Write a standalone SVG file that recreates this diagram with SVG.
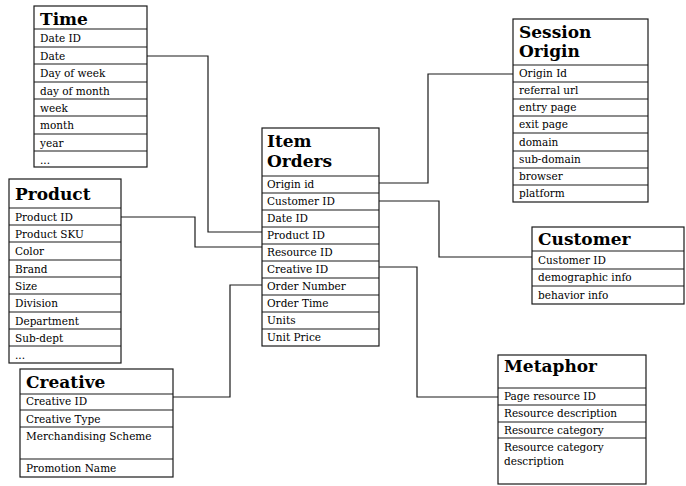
<svg xmlns="http://www.w3.org/2000/svg" width="686" height="486" viewBox="0 0 686 486">
<style>
rect{fill:#fff;stroke:#1a1a1a;stroke-width:1.2}
line.r{stroke:#1a1a1a;stroke-width:1.2}
.t{font-family:"DejaVu Serif","Liberation Serif",serif;font-weight:bold;font-size:17px;fill:#000}
.f{font-family:"DejaVu Serif","Liberation Serif",serif;font-size:10.5px;fill:#000}
#connectors path{fill:none;stroke:#1a1a1a;stroke-width:1.2}
</style>
<rect x="0" y="0" width="686" height="486" style="fill:#fff;stroke:none"/>
<g id="connectors">
<path d="M147,56 H208 V232 H262"/>
<path d="M121,217 H195 V247 H262"/>
<path d="M173,397 H230 V285 H262"/>
<path d="M379,183 H428 V74 H513"/>
<path d="M379,201 H439 V257 H532"/>
<path d="M379,267 H417 V397 H498"/>
</g>
<g id="time">
<rect x="34" y="6" width="113" height="161"/>
<text class="t" x="40" y="25">Time</text>
<line class="r" x1="34" y1="29" x2="147" y2="29"/>
<line class="r" x1="34" y1="47" x2="147" y2="47"/>
<line class="r" x1="34" y1="64" x2="147" y2="64"/>
<line class="r" x1="34" y1="82" x2="147" y2="82"/>
<line class="r" x1="34" y1="99" x2="147" y2="99"/>
<line class="r" x1="34" y1="116" x2="147" y2="116"/>
<line class="r" x1="34" y1="134" x2="147" y2="134"/>
<line class="r" x1="34" y1="151" x2="147" y2="151"/>
<text class="f" x="40" y="42">Date ID</text>
<text class="f" x="40" y="60">Date</text>
<text class="f" x="40" y="77">Day of week</text>
<text class="f" x="40" y="95">day of month</text>
<text class="f" x="40" y="112">week</text>
<text class="f" x="40" y="129">month</text>
<text class="f" x="40" y="147">year</text>
<text class="f" x="40" y="164">...</text>
</g>
<g id="product">
<rect x="9" y="179" width="112" height="184"/>
<text class="t" x="15" y="200">Product</text>
<line class="r" x1="9" y1="208" x2="121" y2="208"/>
<line class="r" x1="9" y1="225" x2="121" y2="225"/>
<line class="r" x1="9" y1="242" x2="121" y2="242"/>
<line class="r" x1="9" y1="260" x2="121" y2="260"/>
<line class="r" x1="9" y1="277" x2="121" y2="277"/>
<line class="r" x1="9" y1="294" x2="121" y2="294"/>
<line class="r" x1="9" y1="312" x2="121" y2="312"/>
<line class="r" x1="9" y1="329" x2="121" y2="329"/>
<line class="r" x1="9" y1="346" x2="121" y2="346"/>
<text class="f" x="15" y="221">Product ID</text>
<text class="f" x="15" y="238">Product SKU</text>
<text class="f" x="15" y="255">Color</text>
<text class="f" x="15" y="273">Brand</text>
<text class="f" x="15" y="290">Size</text>
<text class="f" x="15" y="307">Division</text>
<text class="f" x="15" y="325">Department</text>
<text class="f" x="15" y="342">Sub-dept</text>
<text class="f" x="15" y="359">...</text>
</g>
<g id="creative">
<rect x="20" y="369" width="153" height="108"/>
<text class="t" x="26" y="388">Creative</text>
<line class="r" x1="20" y1="394" x2="173" y2="394"/>
<line class="r" x1="20" y1="410" x2="173" y2="410"/>
<line class="r" x1="20" y1="427" x2="173" y2="427"/>
<line class="r" x1="20" y1="459" x2="173" y2="459"/>
<text class="f" x="26" y="405">Creative ID</text>
<text class="f" x="26" y="423">Creative Type</text>
<text class="f" x="26" y="440">Merchandising Scheme</text>
<text class="f" x="26" y="472">Promotion Name</text>
</g>
<g id="item-orders">
<rect x="262" y="128" width="117" height="218"/>
<text class="t" x="267" y="147">Item</text>
<text class="t" x="267" y="167">Orders</text>
<line class="r" x1="262" y1="176" x2="379" y2="176"/>
<line class="r" x1="262" y1="193" x2="379" y2="193"/>
<line class="r" x1="262" y1="210" x2="379" y2="210"/>
<line class="r" x1="262" y1="227" x2="379" y2="227"/>
<line class="r" x1="262" y1="244" x2="379" y2="244"/>
<line class="r" x1="262" y1="261" x2="379" y2="261"/>
<line class="r" x1="262" y1="278" x2="379" y2="278"/>
<line class="r" x1="262" y1="295" x2="379" y2="295"/>
<line class="r" x1="262" y1="312" x2="379" y2="312"/>
<line class="r" x1="262" y1="329" x2="379" y2="329"/>
<text class="f" x="267" y="188">Origin id</text>
<text class="f" x="267" y="205">Customer ID</text>
<text class="f" x="267" y="222">Date ID</text>
<text class="f" x="267" y="239">Product ID</text>
<text class="f" x="267" y="256">Resource ID</text>
<text class="f" x="267" y="273">Creative ID</text>
<text class="f" x="267" y="290">Order Number</text>
<text class="f" x="267" y="307">Order Time</text>
<text class="f" x="267" y="324">Units</text>
<text class="f" x="267" y="341">Unit Price</text>
</g>
<g id="session-origin">
<rect x="513" y="19" width="135" height="183"/>
<text class="t" x="519" y="38">Session</text>
<text class="t" x="519" y="57">Origin</text>
<line class="r" x1="513" y1="65" x2="648" y2="65"/>
<line class="r" x1="513" y1="82" x2="648" y2="82"/>
<line class="r" x1="513" y1="99" x2="648" y2="99"/>
<line class="r" x1="513" y1="116" x2="648" y2="116"/>
<line class="r" x1="513" y1="133" x2="648" y2="133"/>
<line class="r" x1="513" y1="151" x2="648" y2="151"/>
<line class="r" x1="513" y1="168" x2="648" y2="168"/>
<line class="r" x1="513" y1="185" x2="648" y2="185"/>
<text class="f" x="519" y="77">Origin Id</text>
<text class="f" x="519" y="94">referral url</text>
<text class="f" x="519" y="111">entry page</text>
<text class="f" x="519" y="128">exit page</text>
<text class="f" x="519" y="146">domain</text>
<text class="f" x="519" y="163">sub-domain</text>
<text class="f" x="519" y="180">browser</text>
<text class="f" x="519" y="197">platform</text>
</g>
<g id="customer">
<rect x="532" y="227" width="152" height="77"/>
<text class="t" x="538" y="245">Customer</text>
<line class="r" x1="532" y1="251" x2="684" y2="251"/>
<line class="r" x1="532" y1="269" x2="684" y2="269"/>
<line class="r" x1="532" y1="286" x2="684" y2="286"/>
<text class="f" x="538" y="264">Customer ID</text>
<text class="f" x="538" y="281">demographic info</text>
<text class="f" x="538" y="299">behavior info</text>
</g>
<g id="metaphor">
<rect x="498" y="355" width="148" height="129"/>
<text class="t" x="504" y="372">Metaphor</text>
<line class="r" x1="498" y1="388" x2="646" y2="388"/>
<line class="r" x1="498" y1="405" x2="646" y2="405"/>
<line class="r" x1="498" y1="422" x2="646" y2="422"/>
<line class="r" x1="498" y1="438" x2="646" y2="438"/>
<text class="f" x="504" y="400">Page resource ID</text>
<text class="f" x="504" y="417">Resource description</text>
<text class="f" x="504" y="434">Resource category</text>
<text class="f" x="504" y="451">Resource category</text>
<text class="f" x="504" y="465">description</text>
</g>
</svg>
